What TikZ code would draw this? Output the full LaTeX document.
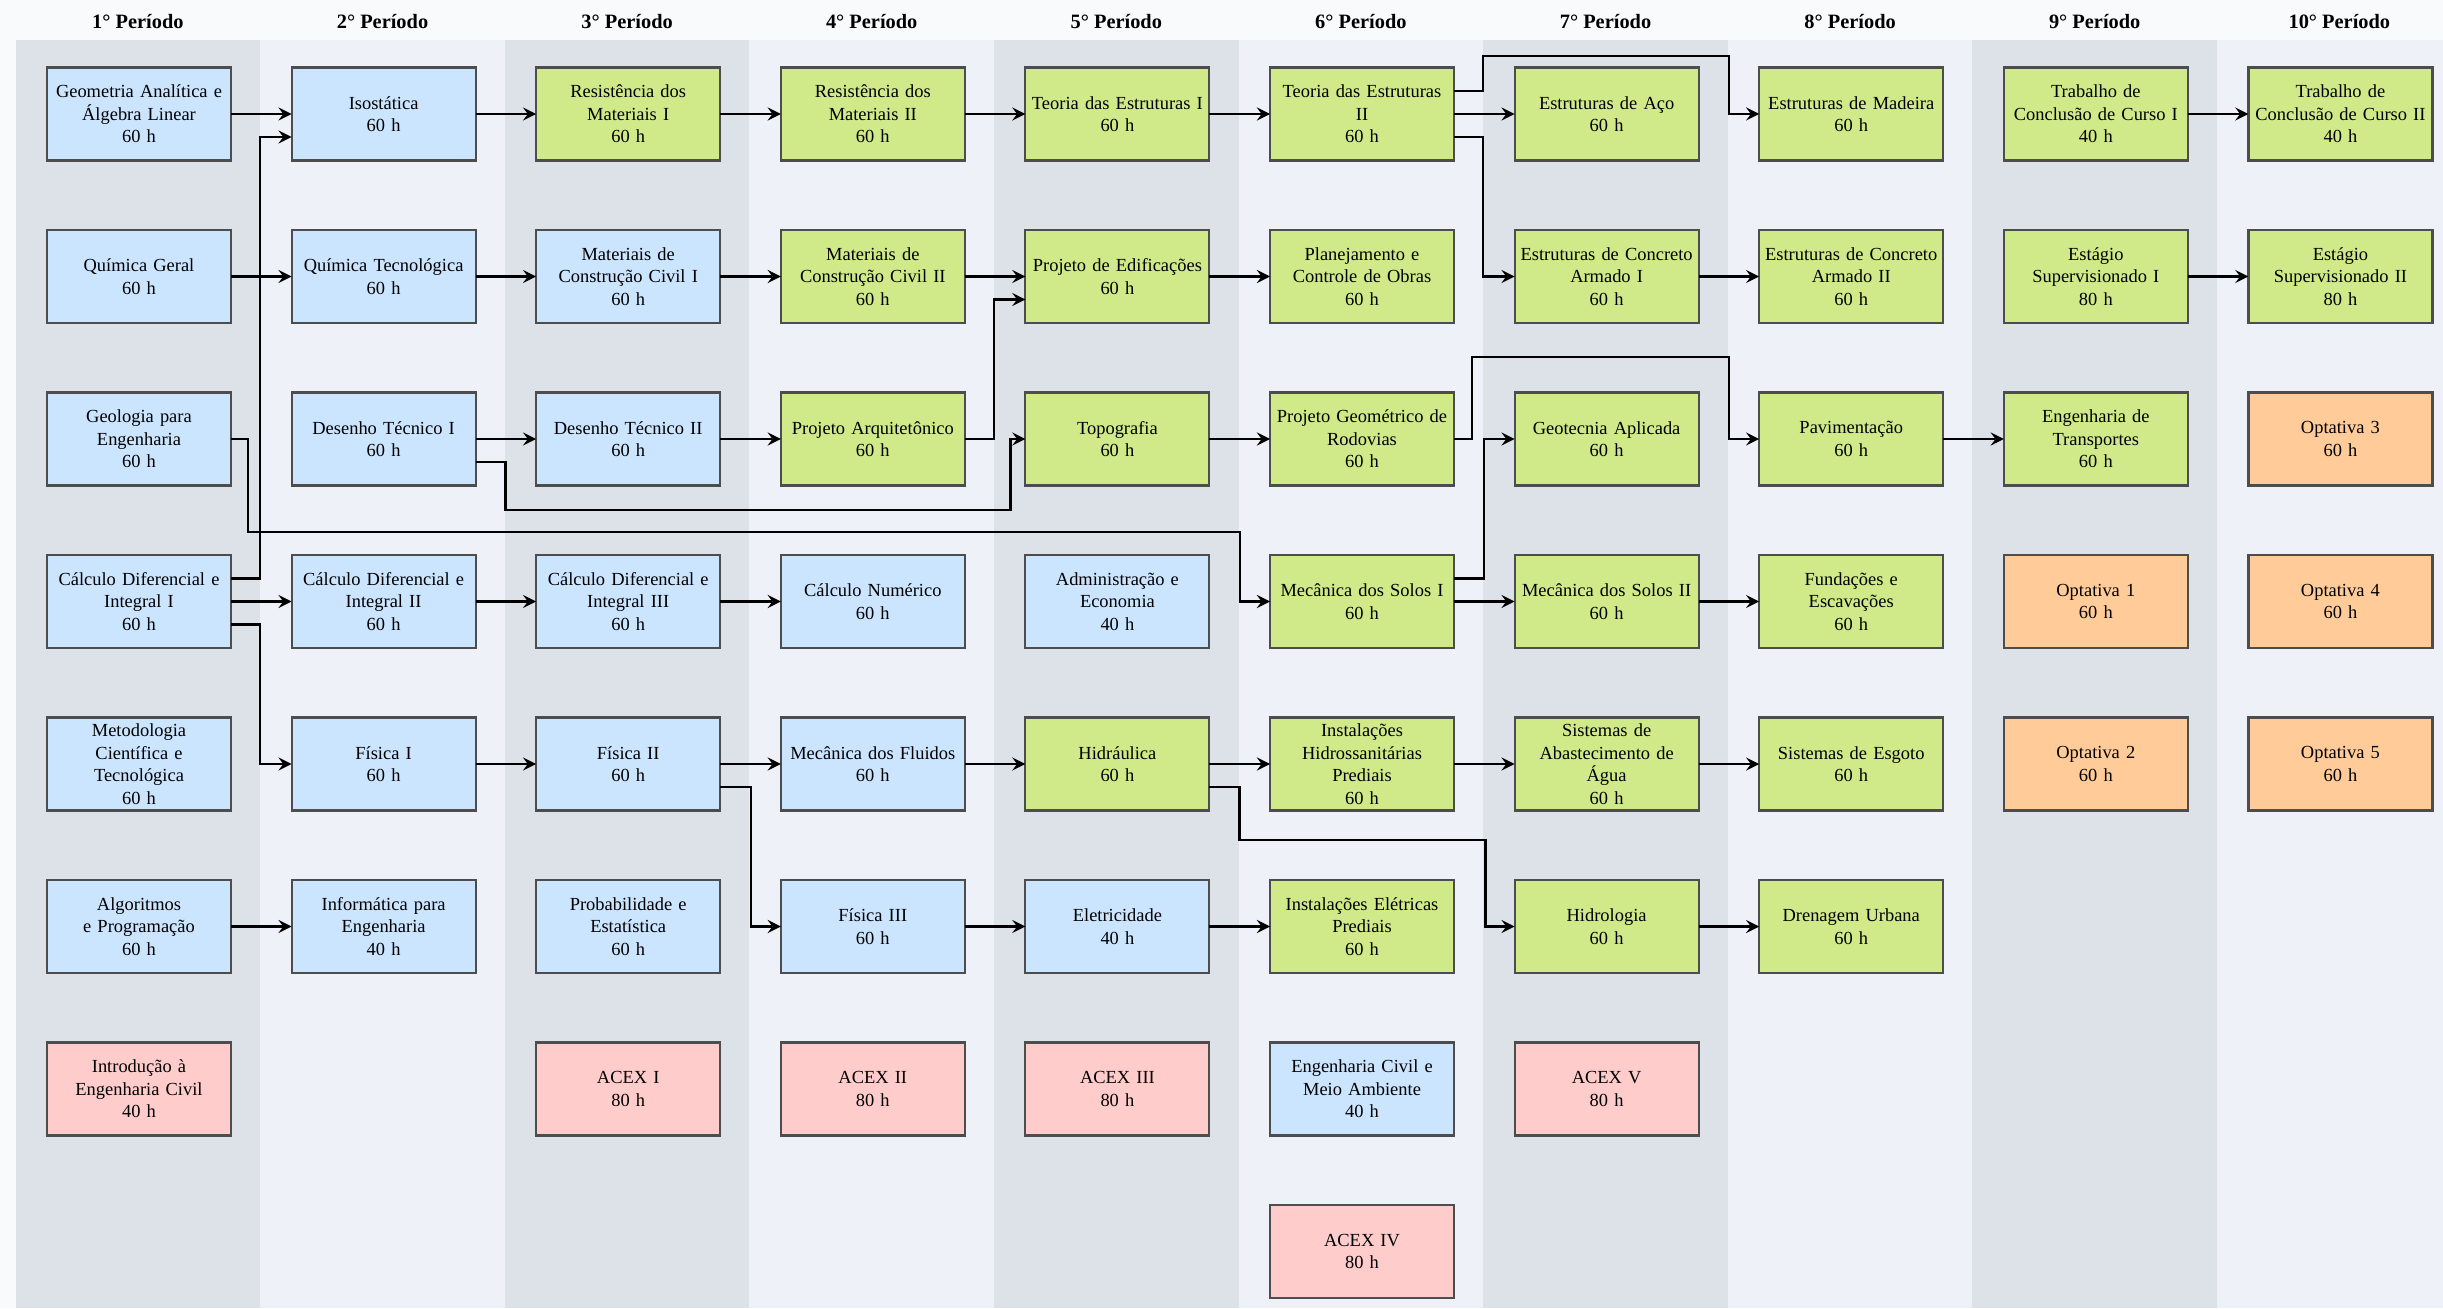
\documentclass[tikz,border=0pt]{standalone}
\usepackage{fontspec}
\setmainfont{Liberation Serif}
\usepackage{tikz}
\usetikzlibrary{positioning,arrows}

\definecolor{bandDark}{HTML}{DDE2E9}
\definecolor{bandLight}{HTML}{EEF1F7}
\definecolor{headBg}{HTML}{F9FAFC}
\definecolor{fillBlue}{HTML}{CCE5FF}
\definecolor{fillGreen}{HTML}{D0EA8A}
\definecolor{fillOrange}{HTML}{FFCC99}
\definecolor{fillPink}{HTML}{FFCCCC}
\definecolor{boxLine}{HTML}{4D4D4D}

\begin{document}
\begin{tikzpicture}[
    node distance=0.695cm and 0.606cm,
    discnode/.style={rectangle, draw=boxLine, line width=0.6pt, outer sep=0pt,
        text width=1.8cm, inner xsep=0.02cm, inner ysep=0pt, minimum height=0.93cm,
        align=center, font=\fontsize{5.25}{6.4}\selectfont},
    bluenode/.style={discnode, fill=fillBlue},
    greennode/.style={discnode, fill=fillGreen},
    orangenode/.style={discnode, fill=fillOrange},
    pinknode/.style={discnode, fill=fillPink},
    headnode/.style={font=\bfseries\fontsize{5.8}{7}\selectfont},
    arrowline/.style={->, >=stealth, line width=0.65pt}
    ]
        %Background
        \useasboundingbox (0,0) rectangle (24.43,-13.08);
        \fill[headBg] (0,0) rectangle (24.43,-13.08);
        \foreach \i in {1,...,10} {
            \pgfmathsetmacro{\bx}{0.156+2.446*(\i-1)}
            \ifodd\i \def\bc{bandDark}\else \def\bc{bandLight}\fi
            \fill[\bc] (\bx,-0.40) rectangle ++(2.446,-12.68);
            \node[headnode] (h\i) at (\bx+1.223,-0.22) {\i° Período};
        }

        %Nodes
        \node[bluenode]
            (ga) at (1.39,-1.14)        {Geometria Analítica e\\Álgebra Linear\\60 h};
        \node[bluenode]
            (iso)   [right=of ga]       {Isostática\\60 h};
        \node[greennode]
            (rm1)   [right=of iso]      {Resistência dos\\Materiais I\\60 h};
        \node[greennode]
            (rm2)   [right=of rm1]      {Resistência dos\\Materiais II\\60 h};
        \node[greennode]
            (te1)   [right=of rm2]      {Teoria das Estruturas I\\60 h};
        \node[greennode]
            (te2)   [right=of te1]      {Teoria das Estruturas\\II\\60 h};
        \node[greennode]
            (aco)   [right=of te2]      {Estruturas de Aço\\60 h};
        \node[greennode]
            (mad)   [right=of aco]      {Estruturas de Madeira\\60 h};
        \node[greennode]
            (tcc1)  [right=of mad]      {Trabalho de\\Conclusão de Curso I\\40 h};
        \node[greennode]
            (tcc2)  [right=of tcc1]     {Trabalho de\\Conclusão de Curso II\\40 h};

        % 1st period
        \node[bluenode]
            (qg)    [below=of ga]       {Química Geral\\60 h};
        \node[bluenode]
            (geol)  [below=of qg]       {Geologia para\\Engenharia\\60 h};
        \node[bluenode]
            (calc1) [below=of geol]     {Cálculo Diferencial e\\Integral I\\60 h};
        \node[bluenode]
            (met)   [below=of calc1]    {Metodologia\\Científica e\\Tecnológica\\60 h};
        \node[bluenode]
            (alg)   [below=of met]      {Algoritmos\\e Programação\\60 h};
        \node[pinknode]
            (intro) [below=of alg]      {Introdução à\\Engenharia Civil\\40 h};

        % 2nd period
        \node[bluenode]
            (qt)    [below=of iso]      {Química Tecnológica\\60 h};
        \node[bluenode]
            (dt1)   [below=of qt]       {Desenho Técnico I\\60 h};
        \node[bluenode]
            (calc2) [below=of dt1]      {Cálculo Diferencial e\\Integral II\\60 h};
        \node[bluenode]
            (fis1)  [below=of calc2]    {Física I\\60 h};
        \node[bluenode]
            (inf)   [below=of fis1]     {Informática para\\Engenharia\\40 h};

        % 3rd period
        \node[bluenode]
            (mcc1)  [below=of rm1]      {Materiais de\\Construção Civil I\\60 h};
        \node[bluenode]
            (dt2)   [below=of mcc1]     {Desenho Técnico II\\60 h};
        \node[bluenode]
            (calc3) [below=of dt2]      {Cálculo Diferencial e\\Integral III\\60 h};
        \node[bluenode]
            (fis2)  [below=of calc3]    {Física II\\60 h};
        \node[bluenode]
            (prob)  [below=of fis2]     {Probabilidade e\\Estatística\\60 h};
        \node[pinknode]
            (acex1) [below=of prob]     {ACEX I\\80 h};

        % 4th period
        \node[greennode]
            (mcc2)  [below=of rm2]      {Materiais de\\Construção Civil II\\60 h};
        \node[greennode]
            (parq)  [below=of mcc2]     {Projeto Arquitetônico\\60 h};
        \node[bluenode]
            (cnum)  [below=of parq]     {Cálculo Numérico\\60 h};
        \node[bluenode]
            (mfl)   [below=of cnum]     {Mecânica dos Fluidos\\60 h};
        \node[bluenode]
            (fis3)  [below=of mfl]      {Física III\\60 h};
        \node[pinknode]
            (acex2) [below=of fis3]     {ACEX II\\80 h};

        % 5th period
        \node[greennode]
            (ped)   [below=of te1]      {Projeto de Edificações\\60 h};
        \node[greennode]
            (topo)  [below=of ped]      {Topografia\\60 h};
        \node[bluenode]
            (adm)   [below=of topo]     {Administração e\\Economia\\40 h};
        \node[greennode]
            (hid)   [below=of adm]      {Hidráulica\\60 h};
        \node[bluenode]
            (ele)   [below=of hid]      {Eletricidade\\40 h};
        \node[pinknode]
            (acex3) [below=of ele]      {ACEX III\\80 h};

        % 6th period
        \node[greennode]
            (plan)  [below=of te2]      {Planejamento e\\Controle de Obras\\60 h};
        \node[greennode]
            (pgr)   [below=of plan]     {Projeto Geométrico de\\Rodovias\\60 h};
        \node[greennode]
            (ms1)   [below=of pgr]      {Mecânica dos Solos I\\60 h};
        \node[greennode]
            (ihs)   [below=of ms1]      {Instalações\\Hidrossanitárias\\Prediais\\60 h};
        \node[greennode]
            (iel)   [below=of ihs]      {Instalações Elétricas\\Prediais\\60 h};
        \node[bluenode]
            (ecma)  [below=of iel]      {Engenharia Civil e\\Meio Ambiente\\40 h};
        \node[pinknode]
            (acex4) [below=of ecma]     {ACEX IV\\80 h};

        % 7th period
        \node[greennode]
            (eca1)  [below=of aco]      {Estruturas de Concreto\\Armado I\\60 h};
        \node[greennode]
            (geot)  [below=of eca1]     {Geotecnia Aplicada\\60 h};
        \node[greennode]
            (ms2)   [below=of geot]     {Mecânica dos Solos II\\60 h};
        \node[greennode]
            (sab)   [below=of ms2]      {Sistemas de\\Abastecimento de\\Água\\60 h};
        \node[greennode]
            (hidrol) [below=of sab]     {Hidrologia\\60 h};
        \node[pinknode]
            (acex5) [below=of hidrol]   {ACEX V\\80 h};

        % 8th period
        \node[greennode]
            (eca2)  [below=of mad]      {Estruturas de Concreto\\Armado II\\60 h};
        \node[greennode]
            (pav)   [below=of eca2]     {Pavimentação\\60 h};
        \node[greennode]
            (fund)  [below=of pav]      {Fundações e\\Escavações\\60 h};
        \node[greennode]
            (esg)   [below=of fund]     {Sistemas de Esgoto\\60 h};
        \node[greennode]
            (dren)  [below=of esg]      {Drenagem Urbana\\60 h};

        % 9th period
        \node[greennode]
            (est1)  [below=of tcc1]     {Estágio\\Supervisionado I\\80 h};
        \node[greennode]
            (etr)   [below=of est1]     {Engenharia de\\Transportes\\60 h};
        \node[orangenode]
            (opt1)  [below=of etr]      {Optativa 1\\60 h};
        \node[orangenode]
            (opt2)  [below=of opt1]     {Optativa 2\\60 h};

        % 10th period
        \node[greennode]
            (est2)  [below=of tcc2]     {Estágio\\Supervisionado II\\80 h};
        \node[orangenode]
            (opt3)  [below=of est2]     {Optativa 3\\60 h};
        \node[orangenode]
            (opt4)  [below=of opt3]     {Optativa 4\\60 h};
        \node[orangenode]
            (opt5)  [below=of opt4]     {Optativa 5\\60 h};

        %Lines
        \draw[arrowline] (ga.east) -- (iso.west);
        \draw[arrowline] (iso.east) -- (rm1.west);
        \draw[arrowline] (rm1.east) -- (rm2.west);
        \draw[arrowline] (rm2.east) -- (te1.west);
        \draw[arrowline] (te1.east) -- (te2.west);
        \draw[arrowline] (te2.east) -- (aco.west);
        \draw[arrowline] (tcc1.east) -- (tcc2.west);
        \draw[arrowline] (qg.east) -- (qt.west);
        \draw[arrowline] (qt.east) -- (mcc1.west);
        \draw[arrowline] (mcc1.east) -- (mcc2.west);
        \draw[arrowline] (mcc2.east) -- (ped.west);
        \draw[arrowline] (ped.east) -- (plan.west);
        \draw[arrowline] (eca1.east) -- (eca2.west);
        \draw[arrowline] (est1.east) -- (est2.west);
        \draw[arrowline] (dt1.east) -- (dt2.west);
        \draw[arrowline] (dt2.east) -- (parq.west);
        \draw[arrowline] (topo.east) -- (pgr.west);
        \draw[arrowline] (pav.east) -- (etr.west);
        \draw[arrowline] (calc1.east) -- (calc2.west);
        \draw[arrowline] (calc2.east) -- (calc3.west);
        \draw[arrowline] (calc3.east) -- (cnum.west);
        \draw[arrowline] (ms1.east) -- (ms2.west);
        \draw[arrowline] (ms2.east) -- (fund.west);
        \draw[arrowline] (fis1.east) -- (fis2.west);
        \draw[arrowline] (fis2.east) -- (mfl.west);
        \draw[arrowline] (mfl.east) -- (hid.west);
        \draw[arrowline] (hid.east) -- (ihs.west);
        \draw[arrowline] (ihs.east) -- (sab.west);
        \draw[arrowline] (sab.east) -- (esg.west);
        \draw[arrowline] (alg.east) -- (inf.west);
        \draw[arrowline] (fis3.east) -- (ele.west);
        \draw[arrowline] (ele.east) -- (iel.west);
        \draw[arrowline] (hidrol.east) -- (dren.west);

        % bent lines
        \draw[arrowline]
            ([yshift=0.23cm]calc1.east) -- ++(0.29,0) |- ([yshift=-0.23cm]iso.west);
        \draw[arrowline]
            ([yshift=-0.23cm]calc1.east) -- ++(0.29,0) |- (fis1.west);
        \draw[arrowline]
            (geol.east) -- ++(0.17,0) -- ++(0,-0.93) -| ([xshift=-0.3cm]ms1.west) -- (ms1.west);
        \draw[arrowline]
            ([yshift=-0.23cm]dt1.east) -- ++(0.3,0) -- ++(0,-0.48) -| ([xshift=-0.15cm]topo.west) -- (topo.west);
        \draw[arrowline]
            (parq.east) -- ++(0.29,0) |- ([yshift=-0.23cm]ped.west);
        \draw[arrowline]
            ([yshift=-0.23cm]fis2.east) -- ++(0.31,0) |- (fis3.west);
        \draw[arrowline]
            ([yshift=0.23cm]te2.east) -- ++(0.29,0) |- ([xshift=-0.3cm,yshift=0.58cm]mad.west) -- ([xshift=-0.3cm]mad.west) -- (mad.west);
        \draw[arrowline]
            ([yshift=-0.23cm]te2.east) -- ++(0.29,0) |- (eca1.west);
        \draw[arrowline]
            (pgr.east) -- ++(0.18,0) |- ([xshift=-0.3cm,yshift=0.82cm]pav.west) -- ([xshift=-0.3cm]pav.west) -- (pav.west);
        \draw[arrowline]
            ([yshift=0.23cm]ms1.east) -- ++(0.3,0) |- (geot.west);
        \draw[arrowline]
            ([yshift=-0.23cm]hid.east) -- ++(0.3,0) -- ++(0,-0.53) -| ([xshift=-0.29cm]hidrol.west) -- (hidrol.west);
    \end{tikzpicture}
\end{document}
